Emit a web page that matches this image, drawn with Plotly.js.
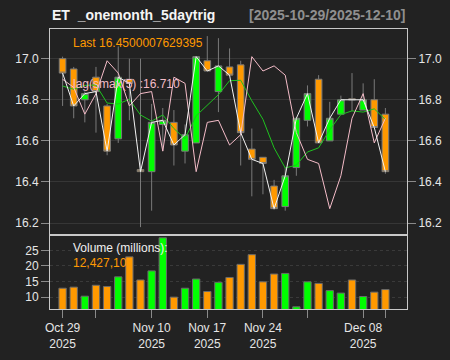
<!DOCTYPE html>
<html>
<head>
<meta charset="utf-8">
<script src="https://cdn.plot.ly/plotly-3.0.1.min.js"></script>
<style>html,body{margin:0;padding:0;background:#222222;}#chart{width:450px;height:360px;}</style>
</head>
<body>
<div id="chart"></div>
<script>
// ---- data ----
const dates = ["2025-10-29","2025-10-30","2025-10-31","2025-11-03","2025-11-04","2025-11-05","2025-11-06","2025-11-07",
  "2025-11-10","2025-11-11","2025-11-12","2025-11-13","2025-11-14","2025-11-17","2025-11-18","2025-11-19","2025-11-20","2025-11-21",
  "2025-11-24","2025-11-25","2025-11-26","2025-11-28","2025-12-01","2025-12-02","2025-12-03","2025-12-04","2025-12-05",
  "2025-12-08","2025-12-09","2025-12-10"];
const openP  = [17.00,16.95,16.80,16.91,16.77,16.61,16.90,16.46,16.45,16.68,16.69,16.55,16.59,16.99,16.84,16.96,16.97,16.56,16.52,16.38,16.28,16.47,16.70,16.90,16.60,16.73,16.805,16.75,16.80,16.73];
const highP  = [17.01,16.96,16.84,16.96,16.78,17.06,17.00,17.00,16.78,16.76,16.75,16.68,17.01,17.11,17.10,17.05,16.99,16.66,16.52,16.41,16.47,16.71,16.87,16.92,16.79,16.82,16.93,16.88,16.90,16.76];
const lowP   = [16.77,16.71,16.69,16.64,16.53,16.59,16.70,16.18,16.26,16.55,16.48,16.49,16.59,16.94,16.74,16.92,16.48,16.33,16.34,16.265,16.26,16.43,16.67,16.59,16.60,16.73,16.745,16.75,16.67,16.44];
const closeP = [16.93,16.77,16.83,16.84,16.55,16.91,16.88,16.45,16.69,16.70,16.58,16.63,17.01,16.94,16.965,16.92,16.64,16.51,16.49,16.27,16.43,16.71,16.83,16.59,16.71,16.80,16.80,16.80,16.665,16.45];
const lagLine = [16.90,16.86,16.73,16.83,16.99,16.93,16.77,16.83,16.84,16.55,16.91,16.88,16.45,16.69,16.70,16.58,16.63,17.01,16.94,16.965,16.92,16.64,16.51,16.49,16.27,16.43,16.71,16.83,16.59,16.71];
const smaLine = [16.867,16.851,16.870,16.872,16.784,16.780,16.802,16.726,16.696,16.726,16.660,16.610,16.722,16.772,16.825,16.893,16.895,16.795,16.705,16.566,16.468,16.482,16.546,16.566,16.654,16.728,16.746,16.740,16.756,16.704];
const volumeM = [12.85,13.2,10.3,13.8,13.4,16.5,22.9,15.5,18.4,29.0,10.0,12.85,15.8,11.8,14.75,16.3,20.5,23.6,14.9,17.4,17.6,6.9,14.9,14.4,12.1,11.3,15.5,10.2,11.6,12.43];
const majorTickDates = ["2025-10-29","2025-11-03","2025-11-10","2025-11-17","2025-11-24","2025-12-01","2025-12-08","2025-12-10"];
const majorTickText  = ["Oct 29<br>2025","","Nov 10<br>2025","Nov 17<br>2025","Nov 24<br>2025","","Dec 08<br>2025",""];
const priceTicks = [16.2,16.4,16.6,16.8,17.0];
const volTicks = [10,15,20,25];

const UP = '#00ff00', DN = '#ff9900';
const volColors = closeP.map((c,i)=> c < openP[i] ? DN : UP);
const FONT = 'Liberation Sans, Arial, sans-serif';
const xr = [-1.13, 30.94];
const frame = '#c8c8c8';

const traces = [
  {type:'candlestick', x:dates, open:openP, high:highP, low:lowP, close:closeP, xaxis:'x2', yaxis:'y',
   increasing:{fillcolor:UP, line:{color:'#7a7a7a', width:1}},
   decreasing:{fillcolor:DN, line:{color:'#7a7a7a', width:1}},
   whiskerwidth:0, hoverinfo:'skip', showlegend:false},
  {type:'scatter', mode:'lines', x:dates, y:smaLine, xaxis:'x2', yaxis:'y', line:{color:'#1fc21f', width:1}, hoverinfo:'skip'},
  {type:'scatter', mode:'lines', x:dates, y:lagLine, xaxis:'x2', yaxis:'y', line:{color:'#f4bcc8', width:1}, hoverinfo:'skip'},
  {type:'scatter', mode:'lines', x:dates, y:closeP, xaxis:'x2', yaxis:'y', line:{color:'#f2f2f2', width:1}, hoverinfo:'skip'},
  {type:'scatter', mode:'lines', x:dates, y:closeP, xaxis:'x2', yaxis:'y3', line:{width:0}, opacity:0, hoverinfo:'skip'},
  {type:'bar', x:dates, y:volumeM, xaxis:'x', yaxis:'y2', marker:{color:volColors, line:{color:'#6a6a6a', width:1}}, hoverinfo:'skip'}
];

const split = (309-235)/280;
const tickFont = {family:FONT, size:12, color:'#e6e6e6'};

const layout = {
  width:450, height:360,
  paper_bgcolor:'#222222', plot_bgcolor:'#222222',
  margin:{l:50, r:43, t:29, b:51},
  showlegend:false, bargap:0.34, boxgap:0.15,
  font:{family:FONT, color:'#e6e6e6'},
  xaxis:{domain:[0,1], anchor:'y2', type:'category', range:xr, rangeslider:{visible:false},
    tickmode:'array', tickvals:majorTickDates, ticktext:majorTickText, ticks:'outside', ticklen:8, tickcolor:'#8a8a8a',
    tickfont:tickFont, showgrid:false, showline:true, mirror:true, linecolor:frame, zeroline:false},
  xaxis2:{domain:[0,1], anchor:'y', matches:'x', type:'category', range:xr, rangeslider:{visible:false},
    showticklabels:false, ticks:'', showgrid:false, showline:true, mirror:true, linecolor:frame},
  xaxis3:{overlaying:'x', anchor:'y2', type:'category', categoryorder:'array', categoryarray:dates, range:xr,
    tickmode:'array', tickvals:dates, ticks:'outside', ticklen:4, tickcolor:'#8a8a8a', showticklabels:false, showgrid:false, showline:false},
  yaxis:{domain:[split,1], anchor:'x2', range:[16.1417,17.1446], tickmode:'array', tickvals:priceTicks, tickformat:'.1f',
    ticks:'outside', ticklen:8, tickcolor:'#8a8a8a', tickfont:tickFont, gridcolor:'#363636', gridwidth:1,
    showline:true, mirror:true, linecolor:frame, zeroline:false},
  yaxis3:{overlaying:'y', side:'right', anchor:'x2', range:[16.1417,17.1446], tickmode:'array', tickvals:priceTicks, tickformat:'.1f',
    ticks:'outside', ticklen:8, tickcolor:'#8a8a8a', tickfont:tickFont, showgrid:false, zeroline:false},
  yaxis2:{domain:[0,split], anchor:'x', range:[6.2,29.9], tickmode:'array', tickvals:volTicks,
    ticks:'outside', ticklen:8, tickcolor:'#8a8a8a', tickfont:tickFont, gridcolor:'#3a3a3a', griddash:'dot',
    showline:true, mirror:true, linecolor:frame, zeroline:false},
  annotations:[
    {xref:'paper', yref:'paper', x:0, y:(309-15)/280, xanchor:'left', yanchor:'middle', showarrow:false,
     text:'<b>ET  _onemonth_5daytrig</b>', font:{family:FONT, size:14, color:'#f5f5f5'}},
    {xref:'paper', yref:'paper', x:1, y:(309-15)/280, xanchor:'right', yanchor:'middle', showarrow:false,
     text:'<b>[2025-10-29/2025-12-10]</b>', font:{family:FONT, size:14, color:'#8f8f8f'}},
    {xref:'paper', yref:'paper', x:(71-50)/357, y:(309-43)/280, xanchor:'left', yanchor:'middle', showarrow:false,
     text:'Last 16.4500007629395', font:{family:FONT, size:12, color:'#ff9900'}},
    {xref:'paper', yref:'paper', x:(71-50)/357, y:(309-84)/280, xanchor:'left', yanchor:'middle', showarrow:false,
     text:'lag(smax(5) :16.710', font:{family:FONT, size:12, color:'#f4bcc8'}},
    {xref:'paper', yref:'paper', x:(71-50)/357, y:(309-248)/280, xanchor:'left', yanchor:'middle', showarrow:false,
     text:'Volume (millions):', font:{family:FONT, size:12, color:'#f0f0f0'}},
    {xref:'paper', yref:'paper', x:(71-50)/357, y:(309-262.5)/280, xanchor:'left', yanchor:'middle', showarrow:false,
     text:'12,427,10', font:{family:FONT, size:12, color:'#ff9900'}}
  ]
};

Plotly.newPlot('chart', traces, layout, {staticPlot:true, displayModeBar:false});
</script>
</body>
</html>
